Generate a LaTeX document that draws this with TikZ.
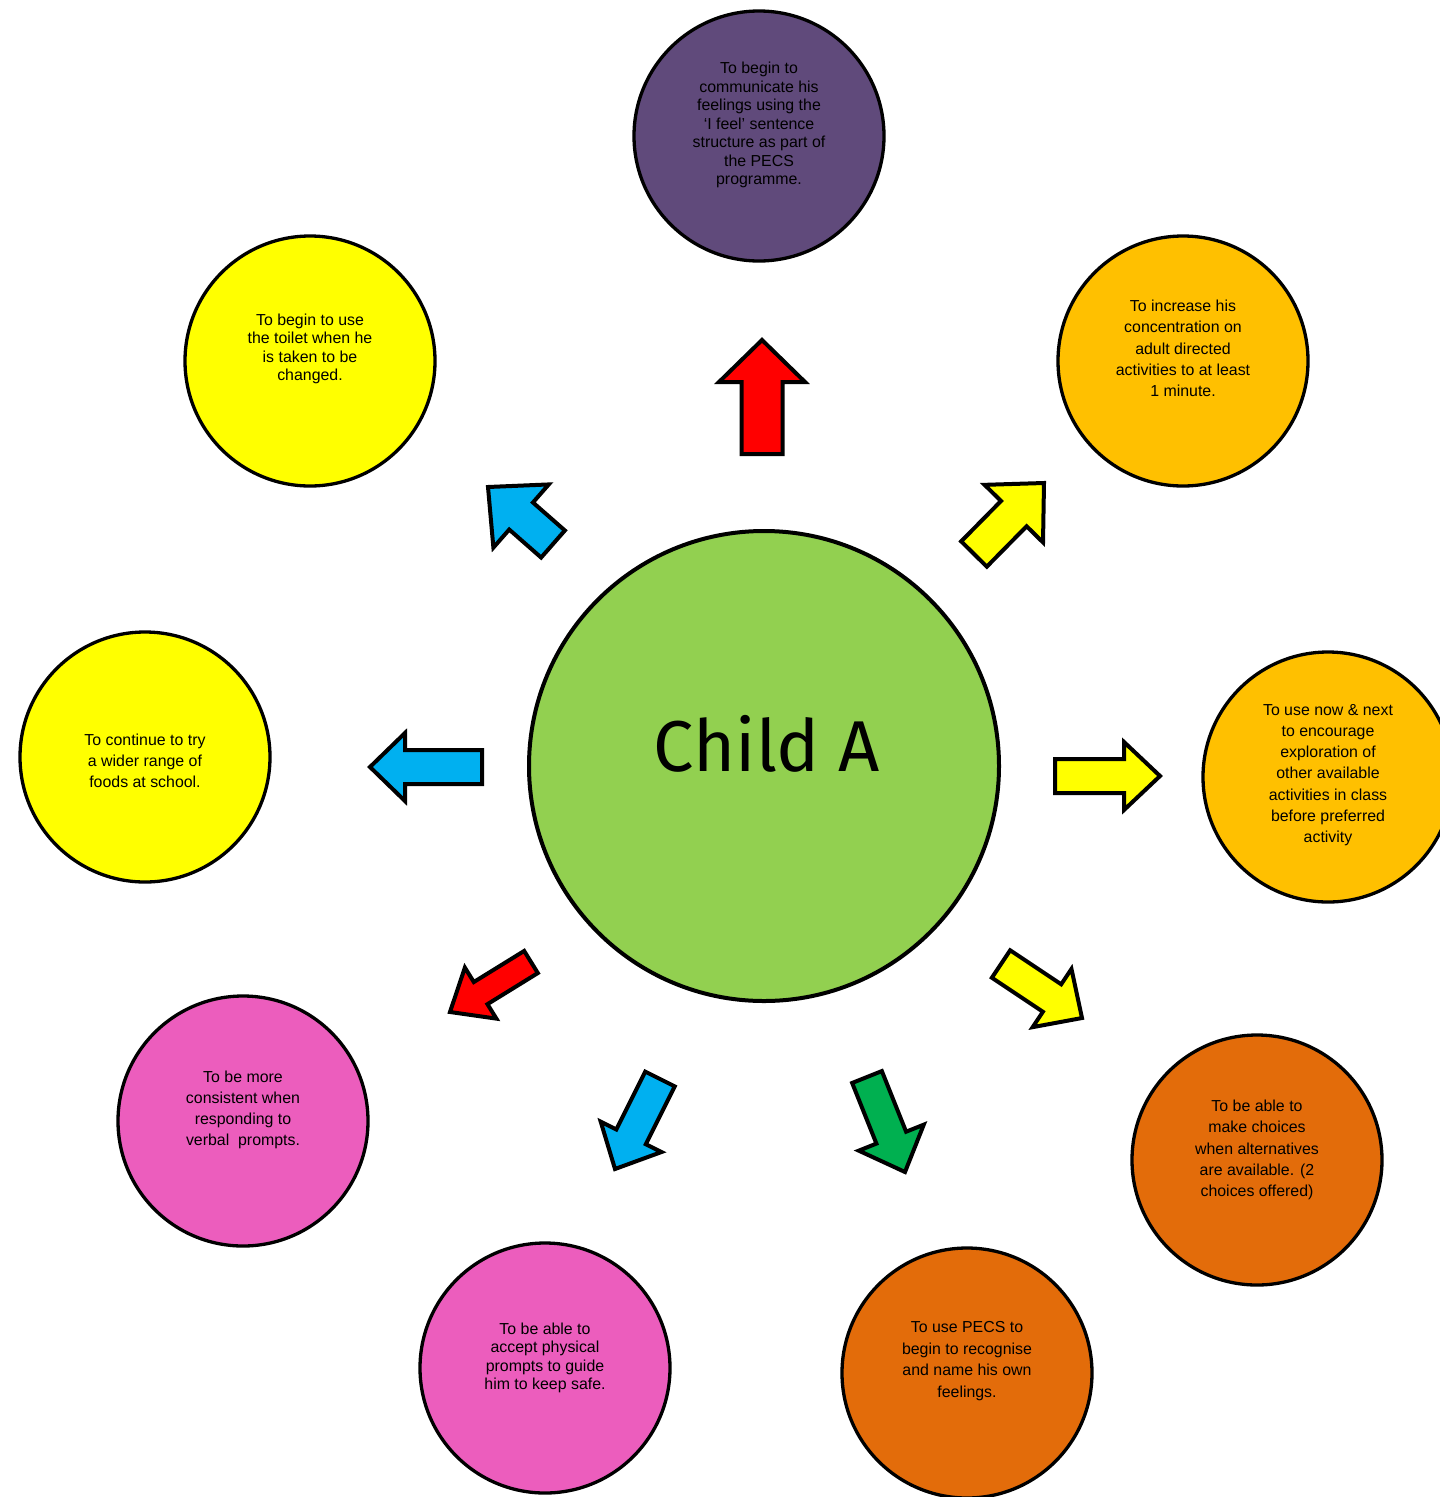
\documentclass[tikz,border=0pt]{standalone}
\usepackage{fontspec}
\setmainfont{Liberation Sans}
\newfontfamily\titlefont{Fira Sans}
\usetikzlibrary{calc}
\definecolor{cpurple}{HTML}{604A7B}
\definecolor{cyellow}{HTML}{FFFF00}
\definecolor{corange}{HTML}{FFC000}
\definecolor{cdorange}{HTML}{E36C0A}
\definecolor{cpink}{HTML}{EC5DBD}
\definecolor{cgreen}{HTML}{92D050}
\definecolor{cred}{HTML}{FF0000}
\definecolor{cblue}{HTML}{00B0F0}
\definecolor{cdgreen}{HTML}{00B050}
\tikzset{
  goal/.style={circle, draw=black, line width=3.3pt, minimum size=250pt, inner sep=0pt},
  gtext/.style={align=center, text=black, inner sep=0pt},
  tight/.style={font=\fontsize{15.9}{18.5}\selectfont},
  loose/.style={font=\fontsize{15.9}{21.2}\selectfont},
  barrow/.style={draw=black, line width=4pt, line join=miter},
}
% name, tail, tip, half shaft, half head, head length, colour
\newcommand\blockarrow[7]{%
  \coordinate (#1-t) at #2;
  \coordinate (#1-p) at #3;
  \coordinate (#1-h) at ($(#1-p)!#6pt!(#1-t)$);
  \draw[barrow, fill=#7]
    ($(#1-t)!#4pt!90:(#1-p)$) -- ($(#1-h)!#4pt!90:(#1-p)$) --
    ($(#1-h)!#5pt!90:(#1-p)$) -- (#1-p) --
    ($(#1-h)!#5pt!-90:(#1-p)$) -- ($(#1-h)!#4pt!-90:(#1-p)$) --
    ($(#1-t)!#4pt!-90:(#1-p)$) -- cycle;
}
\begin{document}
\begin{tikzpicture}[x=1pt, y=-1pt]
\useasboundingbox (0,0) rectangle (1440,1497);
\clip (0,0) rectangle (1440,1497);

% centre
\node[circle, draw=black, line width=4pt, minimum size=470pt, fill=cgreen, inner sep=0pt] (centre) at (764,766) {};
\node[anchor=base, inner sep=0pt, font=\titlefont\fontsize{72}{78}\selectfont] (title) at (767,771) {Child A};

% goal circles
\node[goal, fill=cpurple] (c1) at (759,136) {};
\node[gtext, tight] (t1) at (759,125) {To begin to\\communicate his\\feelings using the\\‘I feel’ sentence\\structure as part of\\the PECS\\programme.};

\node[goal, fill=cyellow] (c2) at (310,361) {};
\node[gtext, tight] (t2) at (310,349) {To begin to use\\the toilet when he\\is taken to be\\changed.};

\node[goal, fill=corange] (c3) at (1183,361) {};
\node[gtext, loose] (t3) at (1183,348.5) {To increase his\\concentration on\\adult directed\\activities to at least\\1 minute.};

\node[goal, fill=cyellow] (c4) at (145,757) {};
\node[gtext, loose] (t4) at (145,761) {To continue to try\\a wider range of\\foods at school.};

\node[goal, fill=corange] (c5) at (1328,777) {};
\node[gtext, loose] (t5) at (1328,775) {To use now \& next\\to encourage\\exploration of\\other available\\activities in class\\before preferred\\activity};

\node[goal, fill=cpink] (c6) at (243,1121) {};
\node[gtext, loose] (t6) at (243,1110) {To be more\\consistent when\\responding to\\verbal\ \ prompts.};

\node[goal, fill=cpink] (c7) at (545,1368) {};
\node[gtext, tight] (t7) at (545,1358) {To be able to\\accept physical\\prompts to guide\\him to keep safe.};

\node[goal, fill=cdorange] (c8) at (967,1373) {};
\node[gtext, font=\fontsize{15.9}{21.7}\selectfont] (t8) at (967,1361) {To use PECS to\\begin to recognise\\and name his own\\feelings.};

\node[goal, fill=cdorange] (c9) at (1257,1160) {};
\node[gtext, loose] (t9) at (1257,1150) {To be able to\\make choices\\when alternatives\\are available. (2\\choices offered)};

% arrows
\blockarrow{a1}{(762,454)}{(762,340)}{20.5}{43}{42}{cred}
\blockarrow{a2}{(553,544)}{(488,487)}{18}{42}{44}{cblue}
\blockarrow{a3}{(974,554)}{(1044,483)}{18}{41}{43}{cyellow}
\blockarrow{a4}{(482,767)}{(370,767)}{17}{34}{35}{cblue}
\blockarrow{a5}{(1055,776)}{(1160,776)}{17}{34}{36}{cyellow}
\blockarrow{a6}{(531,962)}{(450,1012)}{13}{30}{36}{cred}
\blockarrow{a7}{(1001,964)}{(1082,1018)}{16.5}{35}{36}{cyellow}
\blockarrow{a8}{(660,1079)}{(615,1169)}{16.5}{34}{36}{cblue}
\blockarrow{a9}{(867,1077)}{(905,1172)}{16}{35}{37}{cdgreen}
\end{tikzpicture}
\end{document}
